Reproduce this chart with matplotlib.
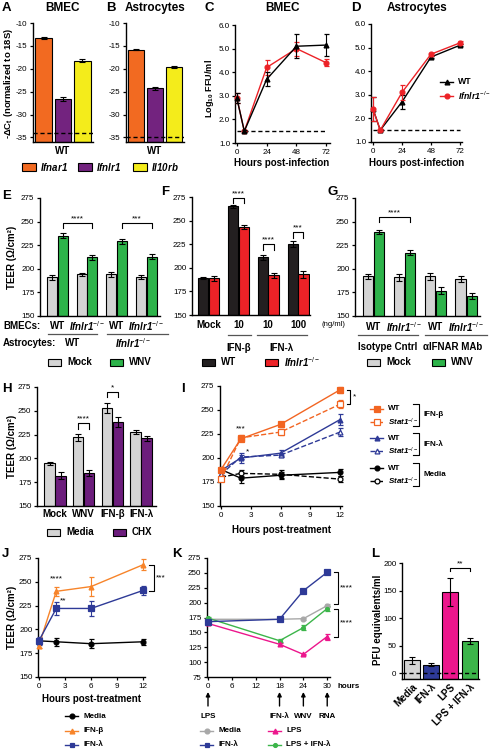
import matplotlib
matplotlib.use('Agg')
import matplotlib.pyplot as plt
import matplotlib.transforms as mtrans
from matplotlib.patches import Rectangle
from matplotlib.lines import Line2D
import numpy as np

plt.rcParams['font.family'] = ['Liberation Sans', 'DejaVu Sans']
plt.rcParams['mathtext.fontset'] = 'custom'
plt.rcParams['mathtext.rm'] = 'Liberation Sans'
plt.rcParams['mathtext.it'] = 'Liberation Sans:italic'
plt.rcParams['mathtext.bf'] = 'Liberation Sans:bold'
plt.rcParams['mathtext.bfit'] = 'Liberation Sans:italic:bold'
plt.rcParams['axes.linewidth'] = 1.0
plt.rcParams['axes.unicode_minus'] = False

# ---------------- data ----------------
genes = [r'$\mathbfit{Ifnar1}$', r'$\mathbfit{Ifnlr1}$', r'$\mathbfit{Il10rb}$']
A_vals = [-13.3, -26.6, -18.2]
A_err = [0.2, 0.4, 0.3]
B_vals = [-15.8, -24.3, -19.7]
B_err = [0.2, 0.3, 0.2]
A_lod = -34
B_lod = -35

hpi = [0, 6, 24, 48, 72]
C_wt = [2.9, 1.5, 3.7, 5.1, 5.15]
C_wt_err = [0.2, 0.05, 0.3, 0.5, 0.45]
C_ko = [2.9, 1.5, 4.2, 5.0, 4.4]
C_ko_err = [0.2, 0.05, 0.3, 0.3, 0.15]
D_wt = [2.4, 1.5, 2.7, 4.6, 5.1]
D_wt_err = [0.5, 0.05, 0.3, 0.05, 0.05]
D_ko = [2.4, 1.5, 3.1, 4.72, 5.2]
D_ko_err = [0.5, 0.05, 0.3, 0.06, 0.06]
lod = 1.5

E_mock = [191, 194, 194, 191]
E_mock_err = [2.5, 2, 2.5, 2]
E_wnv = [235, 212, 229, 213]
E_wnv_err = [2.5, 2.5, 2.5, 2.5]

F_wt = [189, 265, 211, 225]
F_wt_err = [1, 2, 3, 3]
F_ko = [189, 243, 192, 193]
F_ko_err = [2.5, 2, 2.5, 3.5]

G_mock = [192, 191, 192, 189]
G_mock_err = [3, 4, 4, 3]
G_wnv = [239, 217, 177, 171]
G_wnv_err = [2.5, 2.5, 3.5, 3]

H_cats = ['Mock', 'WNV', 'IFN-β', 'IFN-λ']
H_media = [195, 222, 253, 228]
H_media_err = [1.5, 4, 5, 2]
H_chx = [182, 185, 238, 221]
H_chx_err = [4, 3, 5, 3]

hpt = [0, 2, 6, 12]
I_b_wt = [188, 220, 235, 271]
I_b_wt_err = [2, 2, 3, 3]
I_b_ko = [178, 221, 227, 256]
I_b_ko_err = [2, 3, 3, 4]
I_l_wt = [187, 200, 205, 240]
I_l_wt_err = [3, 5, 3, 6]
I_l_ko = [183, 201, 203, 227]
I_l_ko_err = [3, 2, 2, 4]
I_m_wt = [188, 179, 182, 185]
I_m_wt_err = [3, 5, 3, 4]
I_m_ko = [180, 184, 183, 178]
I_m_ko_err = [2, 3, 5, 3]

J_media = [188, 187, 185, 187]
J_media_err = [3, 4, 5, 3]
J_beta = [183, 240, 245, 268]
J_beta_err = [3, 5, 10, 6]
J_lam = [188, 222, 222, 241]
J_lam_err = [4, 7, 8, 5]

K_t = [0, 18, 24, 30]
K_media = [172, 172, 173, 195]
K_media_err = [1, 1, 2, 3]
K_lam = [168, 172, 220, 251]
K_lam_err = [2, 1, 2, 3]
K_lps = [165, 130, 113, 143]
K_lps_err = [1, 2, 1, 5]
K_lpslam = [174, 136, 158, 190]
K_lpslam_err = [2, 3, 4, 4]
K_events = ['LPS', 'IFN-λ', 'WNV', 'RNA']

L_cats = ['Media', 'IFN-λ', 'LPS', 'LPS + IFN-λ']
L_vals = [24, 16, 147, 59]
L_err = [6, 3, 25, 5]

KO = r'$\mathbfit{Ifnlr1}^{-/-}$'
STAT = r'$\mathbfit{Stat1}^{-/-}$'

# colours
c_ifnar, c_ifnlr, c_il10 = '#F26A21', '#73237F', '#F4EC1B'
c_red = '#EC2227'
c_gray = '#D4D4D4'
c_green = '#2DB34A'
c_black = '#231F20'
c_purple = '#6C1D7C'
c_orange = '#F26522'
c_orange2 = '#F7842A'
c_blue = '#2E3A97'
c_pink = '#EC168C'
c_lgreen = '#3CB54A'
c_mgray = '#A8A8A8'

# ---------------- helpers ----------------
W, H = 490, 750
fig = plt.figure(figsize=(W / 100, H / 100), dpi=100)
TL, AL, CL, PL = 5.8, 7.0, 7.0, 9.5


def fy(y):
    return 1 - y / H


def fx(x):
    return x / W


def pax(x0, y0, x1, y1):
    ax = fig.add_axes([fx(x0), fy(y1), (x1 - x0) / W, (y1 - y0) / H])
    ax.spines['top'].set_visible(False)
    ax.spines['right'].set_visible(False)
    ax.tick_params(direction='out', length=2.5, width=0.9, labelsize=TL, pad=1.5)
    ax.patch.set_alpha(0)
    return ax


def ftext(x, y, s, **kw):
    kw.setdefault('fontweight', 'bold')
    kw.setdefault('fontsize', CL)
    kw.setdefault('va', 'center')
    kw.setdefault('ha', 'center')
    return fig.text(fx(x), fy(y), s, **kw)


def btr(ax):
    return mtrans.blended_transform_factory(ax.transData, fig.transFigure)


def atext(ax, x, y, s, **kw):
    kw.setdefault('fontweight', 'bold')
    kw.setdefault('fontsize', CL)
    kw.setdefault('va', 'center')
    kw.setdefault('ha', 'center')
    return ax.text(x, fy(y), s, transform=btr(ax), clip_on=False, **kw)


def aline(ax, x0, x1, y, lw=0.9, color='#555555'):
    ax.plot([x0, x1], [fy(y), fy(y)], transform=btr(ax), clip_on=False, color=color, lw=lw)


def letter(x, y, s):
    fig.text(fx(x), fy(y), s, fontsize=PL, fontweight='bold', ha='left', va='top')


def bracket(ax, x0, x1, y, h, s, fs=6):
    ax.plot([x0, x0, x1, x1], [y - h, y, y, y - h], color='k', lw=0.8, clip_on=False)
    ax.text((x0 + x1) / 2, y + 0.5, s, ha='center', va='bottom', fontsize=fs, clip_on=False)


def vbracket(ax, x0, x1, ya, yb):
    ax.plot([x0, x1, x1, x0], [ya, ya, yb, yb], color='k', lw=0.8, clip_on=False)


def legpatch(x, y, color, label, w=13, h=7, fs=CL, gap=6):
    fig.add_artist(Rectangle((fx(x), fy(y + h / 2)), w / W, h / H, transform=fig.transFigure,
                             facecolor=color, edgecolor='black', lw=0.8))
    fig.text(fx(x + w + gap), fy(y), label, fontsize=fs, fontweight='bold', ha='left', va='center')


def legline(x, y, color, marker, label, w=13, ls='-', mfc=None, ms=3.5, fs=5.8, gap=5):
    fig.add_artist(Line2D([fx(x), fx(x + w)], [fy(y), fy(y)], transform=fig.transFigure,
                          color=color, ls=ls, lw=1))
    fig.add_artist(Line2D([fx(x + w / 2)], [fy(y)], transform=fig.transFigure, color=color,
                          marker=marker, ms=ms, mfc=mfc or color, mec=color, mew=0.9))
    fig.text(fx(x + w + gap), fy(y), label, fontsize=fs, fontweight='bold', ha='left', va='center')


EK = dict(elinewidth=0.8, capsize=2.3, capthick=0.8, ecolor='black')


def bars(ax, xs, vals, errs, color, width, base):
    ax.bar(xs, np.array(vals) - base, width, bottom=base, color=color, edgecolor='black',
           linewidth=0.8, yerr=errs, error_kw=EK, zorder=2)


def eline(ax, x, y, e, color, marker, ls='-', mfc=None, ms=3.5, z=3):
    ax.errorbar(x, y, yerr=e, color=color, marker=marker, ms=ms, lw=1, ls=ls,
                mfc=mfc or color, mec=color, mew=0.9, capsize=1.8, elinewidth=0.8,
                capthick=0.8, zorder=z, clip_on=False)


def teer_axis(ax):
    ax.set_ylim(150, 275)
    ax.set_yticks(range(150, 276, 25))


# ---------------- A ----------------
axA = pax(33, 23, 93, 142)
bars(axA, np.arange(3), A_vals, A_err, [c_ifnar, c_ifnlr, c_il10], 0.87, -36)
axA.set_xlim(-0.54, 2.54)
axA.set_ylim(-36, -10)
axA.set_yticks(range(-35, -9, 5))
axA.plot([-0.54, 2.54], [A_lod, A_lod], color='k', ls=(0, (3, 2)), lw=1, zorder=3)
axA.set_xticks([1])
axA.set_xticklabels(['WT'], fontweight='bold', fontsize=CL)
axA.tick_params(axis='x', length=0, pad=3)
ftext(9, 83, r'-ΔC$_\mathbf{t}$ (normalized to 18S)', rotation=90, fontsize=6.8)
ftext(63, 8, 'BMEC', fontsize=8.5)
letter(2, 2, 'A')

# ---------------- B ----------------
axB = pax(126, 23, 184, 142)
bars(axB, np.arange(3), B_vals, B_err, [c_ifnar, c_ifnlr, c_il10], 0.82, -36)
axB.set_xlim(-0.49, 2.49)
axB.set_ylim(-36, -10)
axB.set_yticks(range(-35, -9, 5))
axB.plot([-0.49, 2.49], [B_lod, B_lod], color='k', ls=(0, (3, 2)), lw=1, zorder=3)
axB.set_xticks([1])
axB.set_xticklabels(['WT'], fontweight='bold', fontsize=CL)
axB.tick_params(axis='x', length=0, pad=3)
ftext(155, 8, 'Astrocytes', fontsize=8.5)
letter(106, 2, 'B')

legpatch(22, 167, c_ifnar, genes[0], w=14, h=8, gap=4)
legpatch(78, 167, c_ifnlr, genes[1], w=14, h=8, gap=4)
legpatch(133, 167, c_il10, genes[2], w=14, h=8, gap=4)

# ---------------- C ----------------
axC = pax(235, 25, 330, 143)
axC.plot([0, 72], [lod, lod], color='k', ls=(0, (3, 2)), lw=1)
eline(axC, hpi, C_ko, C_ko_err, c_red, 'o')
eline(axC, hpi, C_wt, C_wt_err, 'k', '^', z=4)
axC.set_xlim(-1.5, 75)
axC.set_ylim(1, 6)
axC.set_xticks([0, 24, 48, 72])
axC.set_yticks([1, 2, 3, 4, 5, 6])
axC.set_yticklabels(['%.1f' % v for v in [1, 2, 3, 4, 5, 6]])
axC.tick_params(axis='y', pad=1)
ftext(210, 88, r'Log$_\mathbf{10}$ FFU/ml', rotation=90, fontsize=6.6)
ftext(282, 163, 'Hours post-infection', fontsize=AL)
ftext(282, 8, 'BMEC', fontsize=8.5)
letter(204, 2, 'C')

# ---------------- D ----------------
axD = pax(371, 24, 462, 142)
axD.plot([0, 72], [lod, lod], color='k', ls=(0, (3, 2)), lw=1)
eline(axD, hpi, D_wt, D_wt_err, 'k', '^')
eline(axD, hpi, D_ko, D_ko_err, c_red, 'o', z=4)
axD.set_xlim(-1.66, 73.7)
axD.set_ylim(1, 6)
axD.set_xticks([0, 24, 48, 72])
axD.set_yticks([1, 2, 3, 4, 5, 6])
axD.set_yticklabels(['%.1f' % v for v in [1, 2, 3, 4, 5, 6]])
axD.tick_params(axis='y', pad=1)
ftext(417, 163, 'Hours post-infection', fontsize=AL)
ftext(417, 8, 'Astrocytes', fontsize=8.5)
letter(351, 2, 'D')
legline(440, 82, 'k', '^', 'WT', fs=6.3)
legline(440, 96, c_red, 'o', KO, fs=6.3)

# ---------------- E ----------------
axE = pax(40, 198, 160, 316)
xs = np.arange(4)
bars(axE, xs - 0.18, E_mock, E_mock_err, c_gray, 0.34, 150)
bars(axE, xs + 0.18, E_wnv, E_wnv_err, c_green, 0.34, 150)
axE.set_xlim(-0.59, 3.46)
teer_axis(axE)
axE.set_xticks([])
bracket(axE, 0.18, 1.18, 249, 6, '****')
bracket(axE, 2.18, 3.18, 249, 6, '***')
ftext(12, 257, 'TEER (Ω/cm²)', rotation=90, fontsize=AL)
ftext(3, 326, 'BMECs:', ha='left')
for x, s in zip(xs, ['WT', KO, 'WT', KO]):
    atext(axE, x, 326, s)
aline(axE, -0.32, 1.33, 334)
aline(axE, 1.67, 3.72, 334)
ftext(3, 343, 'Astrocytes:', ha='left')
atext(axE, 0.5, 343, 'WT')
atext(axE, 2.55, 343, KO)
legpatch(48, 362, c_gray, 'Mock')
legpatch(110, 362, c_green, 'WNV')
letter(2, 190, 'E')

# ---------------- F ----------------
axF = pax(192, 197, 310, 315)
bars(axF, xs - 0.18, F_wt, F_wt_err, c_black, 0.34, 150)
bars(axF, xs + 0.18, F_ko, F_ko_err, c_red, 0.34, 150)
axF.set_xlim(-0.55, 3.40)
teer_axis(axF)
axF.set_xticks([])
bracket(axF, 0.82, 1.18, 274, 5, '****')
bracket(axF, 1.82, 2.18, 225, 6, '****')
bracket(axF, 2.82, 3.18, 238, 6, '***')
for x, s in zip(xs, ['Mock', '10', '10', '100']):
    atext(axF, x, 325, s)
ftext(321, 325, '(ng/ml)', ha='left', fontweight='normal', fontsize=5.5)
aline(axF, 0.65, 1.43, 335)
aline(axF, 1.63, 3.3, 335)
atext(axF, 1.0, 348, 'IFN-β')
atext(axF, 2.43, 348, 'IFN-λ')
legpatch(202, 362, c_black, 'WT')
legpatch(265, 362, c_red, KO)
letter(161, 186, 'F')

# ---------------- G ----------------
axG = pax(355, 198, 480, 316)
bars(axG, xs - 0.18, G_mock, G_mock_err, c_gray, 0.33, 150)
bars(axG, xs + 0.18, G_wnv, G_wnv_err, c_green, 0.33, 150)
axG.set_xlim(-0.6, 3.45)
teer_axis(axG)
axG.set_xticks([])
bracket(axG, 0.18, 1.18, 255, 5, '****')
for x, s in zip(xs, ['WT', KO, 'WT', KO]):
    atext(axG, x, 327, s)
aline(axG, -0.5, 1.45, 335)
aline(axG, 1.67, 3.68, 335)
atext(axG, 0.47, 347, 'Isotype Cntrl')
atext(axG, 2.55, 347, 'αIFNAR MAb')
legpatch(367, 362, c_gray, 'Mock')
legpatch(432, 362, c_green, 'WNV')
letter(327, 186, 'G')

# ---------------- H ----------------
axH = pax(37, 387, 156, 506)
bars(axH, xs - 0.19, H_media, H_media_err, c_gray, 0.36, 150)
bars(axH, xs + 0.19, H_chx, H_chx_err, c_purple, 0.36, 150)
axH.set_xlim(-0.63, 3.52)
teer_axis(axH)
axH.set_xticks(xs)
axH.set_xticklabels(H_cats, fontweight='bold', fontsize=CL)
axH.tick_params(axis='x', length=0, pad=2.5)
bracket(axH, 0.81, 1.19, 237, 6, '****')
bracket(axH, 1.81, 2.19, 270, 6, '*')
ftext(12, 446, 'TEER (Ω/cm²)', rotation=90, fontsize=AL)
legpatch(47, 532, c_gray, 'Media')
legpatch(113, 532, c_purple, 'CHX')
letter(2, 383, 'H')

# ---------------- I ----------------
axI = pax(220, 386, 342, 506)
eline(axI, hpt, I_m_ko, I_m_ko_err, 'k', 'o', ls='--', mfc='white')
eline(axI, hpt, I_m_wt, I_m_wt_err, 'k', 'o')
eline(axI, hpt, I_l_ko, I_l_ko_err, c_blue, '^', ls='--', mfc='white')
eline(axI, hpt, I_l_wt, I_l_wt_err, c_blue, '^')
eline(axI, hpt, I_b_ko, I_b_ko_err, c_orange, 's', ls='--', mfc='white', ms=4)
eline(axI, hpt, I_b_wt, I_b_wt_err, c_orange, 's', ms=4)
axI.set_xlim(-0.1, 12.2)
teer_axis(axI)
axI.set_xticks([0, 3, 6, 9, 12])
axI.text(2, 227, '***', ha='center', va='bottom', fontsize=6)
axI.text(2.55, 203, '*', ha='left', va='bottom', fontsize=6)
vbracket(axI, 12.7, 13.0, 271, 256)
axI.text(13.25, 263.5, '*', ha='left', va='center', fontsize=6, clip_on=False)
ftext(281, 530, 'Hours post-treatment', fontsize=AL)
letter(181, 383, 'I')
legline(370, 409, c_orange, 's', 'WT', ms=4)
legline(370, 422, c_orange, 's', STAT, ls='--', mfc='white', ms=4)
legline(370, 438, c_blue, '^', 'WT')
legline(370, 451, c_blue, '^', STAT, ls='--', mfc='white')
legline(370, 468, 'k', 'o', 'WT')
legline(370, 481, 'k', 'o', STAT, ls='--', mfc='white')
for ya, yb, lab in [(404, 426, 'IFN-β'), (433, 455, 'IFN-λ'), (463, 486, 'Media')]:
    fig.add_artist(Line2D([fx(413), fx(419), fx(419), fx(413)], [fy(ya), fy(ya), fy(yb), fy(yb)],
                          transform=fig.transFigure, color='k', lw=0.8))
    ftext(423, (ya + yb) / 2, lab, ha='left', fontsize=5.8)

# ---------------- J ----------------
axJ = pax(38, 558, 145, 677)
eline(axJ, hpt, J_media, J_media_err, 'k', 'o')
eline(axJ, hpt, J_beta, J_beta_err, c_orange2, '^')
eline(axJ, hpt, J_lam, J_lam_err, c_blue, 's', ms=3.8)
axJ.set_xlim(-0.1, 12.2)
teer_axis(axJ)
axJ.set_xticks([0, 3, 6, 9, 12])
axJ.text(2, 249, '****', ha='center', va='bottom', fontsize=6)
axJ.text(2.45, 226, '**', ha='left', va='bottom', fontsize=6)
vbracket(axJ, 12.7, 13.2, 268, 240)
axJ.text(13.5, 254, '***', ha='left', va='center', fontsize=6, clip_on=False)
ftext(12, 617, 'TEER (Ω/cm²)', rotation=90, fontsize=AL)
ftext(91, 699, 'Hours post-treatment', fontsize=AL)
letter(2, 548, 'J')
legline(65, 716, 'k', 'o', 'Media')
legline(65, 731, c_orange2, '^', 'IFN-β')
legline(65, 745, c_blue, 's', 'IFN-λ')

# ---------------- K ----------------
axK = pax(207, 558, 330, 677)
eline(axK, K_t, K_media, K_media_err, c_mgray, 'o')
eline(axK, K_t, K_lpslam, K_lpslam_err, c_lgreen, 'o', ms=2.8)
eline(axK, K_t, K_lps, K_lps_err, c_pink, '^')
eline(axK, K_t, K_lam, K_lam_err, c_blue, 's', ms=3.8)
axK.set_xlim(-0.25, 30.7)
axK.set_ylim(75, 275)
axK.set_yticks(range(75, 276, 25))
axK.set_xticks([0, 6, 12, 18, 24, 30])
ftext(337, 686, 'hours', ha='left', fontsize=5.8)
vbracket(axK, 31.6, 32.6, 252, 197)
vbracket(axK, 31.6, 32.6, 190, 143)
axK.text(33.3, 224, '****', ha='left', va='center', fontsize=6, clip_on=False)
axK.text(33.3, 166, '****', ha='left', va='center', fontsize=6, clip_on=False)
for t, lab in zip(K_t, K_events):
    axK.annotate('', xy=(t, fy(692)), xytext=(t, fy(706)), xycoords=btr(axK), textcoords=btr(axK),
                 arrowprops=dict(arrowstyle='-|>', color='k', lw=1, mutation_scale=6,
                                 shrinkA=0, shrinkB=0))
    atext(axK, t, 716, lab, fontsize=5.8)
letter(172, 548, 'K')
legline(200, 731, c_mgray, 'o', 'Media')
legline(200, 745, c_blue, 's', 'IFN-λ')
legline(268, 731, c_pink, '^', 'LPS')
legline(268, 745, c_lgreen, 'o', 'LPS + IFN-λ', ms=2.8)

# ---------------- L ----------------
axL = pax(402, 563, 479, 679)
bars(axL, np.arange(4), L_vals, L_err, [c_gray, c_blue, c_pink, c_lgreen], 0.83, -10)
axL.plot([-0.52, 3.49], [0, 0], color='k', ls=(0, (3, 2)), lw=1, zorder=3)
axL.set_xlim(-0.52, 3.49)
axL.set_ylim(-10, 200)
axL.set_yticks(range(0, 201, 50))
axL.set_xticks(range(4))
axL.set_xticklabels(L_cats, rotation=45, ha='right', rotation_mode='anchor',
                    fontweight='bold', fontsize=CL)
axL.tick_params(axis='x', length=0, pad=2)
bracket(axL, 2, 3, 191, 6, '**')
ftext(378, 620, 'PFU equivalents/ml', rotation=90, fontsize=AL)
letter(371, 548, 'L')

fig.savefig('out.png', dpi=100)
